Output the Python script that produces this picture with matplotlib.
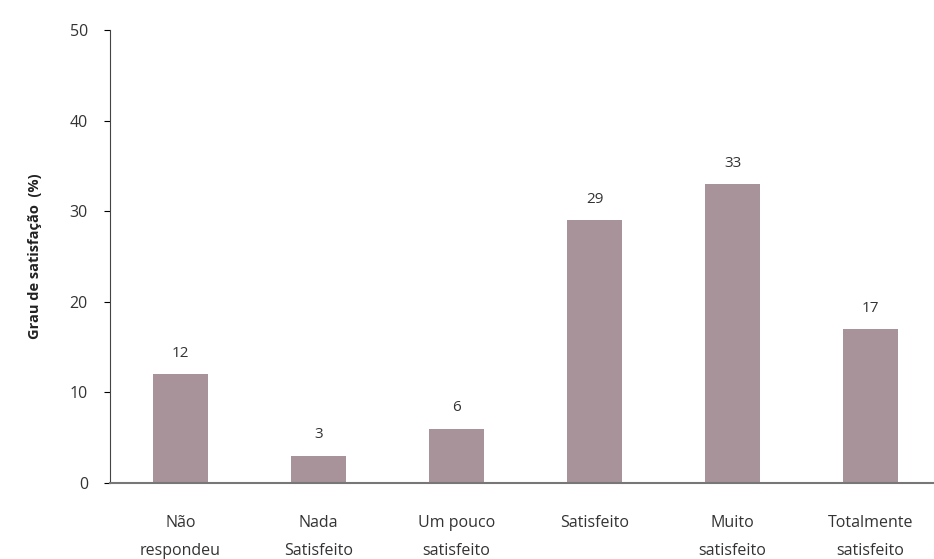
import numpy as np
import matplotlib.pyplot as plt

plt.rcParams['font.family'] = ['Open Sans', 'DejaVu Sans']

categorias = ['Não\nrespondeu', 'Nada\nSatisfeito', 'Um pouco\nsatisfeito',
              'Satisfeito', 'Muito\nsatisfeito', 'Totalmente\nsatisfeito']
valores = [12, 3, 6, 29, 33, 17]

fig = plt.figure(figsize=(9.34, 5.59), dpi=100)
ax = fig.add_axes([0.118, 0.136, 0.882, 0.81])

x = np.arange(len(categorias))
barras = ax.bar(x, valores, width=0.4, color='#a8939a')

for xi, v in zip(x, valores):
    ax.text(xi, v + 2.3, str(v), ha='center', va='center', fontsize=11, color='#333333')

ax.set_xlim(-0.51, 5.46)
ax.set_ylim(0, 50)
ax.set_yticks(range(0, 51, 10))
ax.set_xticks(x)
ax.set_xticklabels(categorias, fontsize=11.5, color='#333333', va='top', linespacing=2.0)
ax.tick_params(axis='x', length=0, pad=23)
ax.tick_params(axis='y', length=4, direction='out', labelsize=11.5, labelcolor='#333333', pad=12)

for lado in ['top', 'right']:
    ax.spines[lado].set_visible(False)
ax.spines['left'].set_color('#444444')
ax.spines['bottom'].set_color('#777777')
ax.spines['bottom'].set_linewidth(1.5)

ax.set_ylabel('Grau de satisfação  (%)', fontsize=10.5, fontweight='bold', color='#222222', labelpad=20)

fig.savefig('out.png', dpi=100)
